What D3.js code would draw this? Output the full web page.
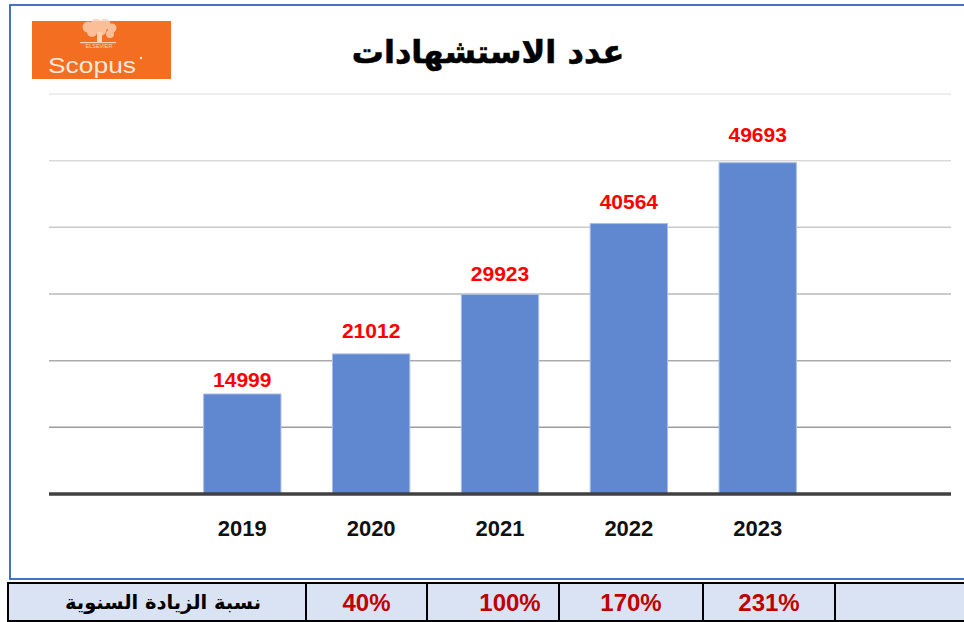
<!DOCTYPE html>
<meta charset="utf-8">
<style>
    body { margin: 0; background: #fff; }
    svg text { font-family: "Liberation Sans", Arial, sans-serif; }
    .ar { font-family: "DejaVu Sans", sans-serif; }
</style>
<svg class="chart" width="964" height="622"></svg>
<script src="https://cdn.jsdelivr.net/npm/d3@7/dist/d3.min.js"></script>
<script>
    var years = ["2019", "2020", "2021", "2022", "2023"];
    var citations = [14999, 21012, 29923, 40564, 49693];
    var yTicks = [10000, 20000, 30000, 40000, 50000, 60000];
    var growthLabel = "نسبة الزيادة السنوية";
    var growth = ["40%", "100%", "170%", "231%"];
    var title = "عدد الاستشهادات";

    // layout only: hand-placed label gaps above bars, table cell edges, text nudges
    var labelGap = [7, 16, 14, 15, 21];
    var cols = [8, 306, 427, 559, 703, 835, 998];
    var cellNudge = [0, 17, 0, 0];

    var svg = d3.select(".chart");

    // outer frame
    svg.append("rect")
        .attr("x", 10).attr("y", 5)
        .attr("width", 970).attr("height", 574)
        .attr("fill", "none")
        .attr("stroke", "#4472c4")
        .attr("stroke-width", 2);

    // scopus logo
    var logo = svg.append("g");
    logo.append("rect")
        .attr("x", 32).attr("y", 21)
        .attr("width", 139).attr("height", 58)
        .attr("fill", "#f46e22");
    var leaf = "#fcd3b6";
    logo.append("g").attr("fill", leaf).attr("opacity", 0.8)
        .selectAll("circle")
        .data([[88, 27, 5.5], [96, 24, 5.5], [105, 24, 5.5], [112, 28, 4.5], [92, 32, 5], [101, 30, 5.5], [110, 34, 4]])
        .enter().append("circle")
        .attr("cx", function (d) { return d[0]; })
        .attr("cy", function (d) { return d[1]; })
        .attr("r", function (d) { return d[2]; });
    logo.append("rect").attr("x", 97).attr("y", 32).attr("width", 5).attr("height", 10).attr("fill", leaf);
    logo.append("rect").attr("x", 80).attr("y", 42).attr("width", 36).attr("height", 1.2).attr("fill", leaf);
    logo.append("text")
        .attr("x", 99).attr("y", 48)
        .attr("text-anchor", "middle")
        .attr("font-size", 5.5)
        .attr("font-family", "DejaVu Serif")
        .attr("fill", leaf)
        .text("ELSEVIER");
    logo.append("text")
        .attr("x", 48).attr("y", 73)
        .attr("font-family", "Open Sans")
        .attr("font-size", 22)
        .attr("textLength", 88)
        .attr("lengthAdjust", "spacingAndGlyphs")
        .attr("fill", "#fde8da")
        .text("Scopus");
    logo.append("circle").attr("cx", 141).attr("cy", 58).attr("r", 1.2).attr("fill", "#fde8da");

    // title
    svg.append("text")
        .attr("class", "ar")
        .attr("x", 488).attr("y", 63)
        .attr("text-anchor", "middle")
        .attr("font-size", 32)
        .attr("font-weight", "bold")
        .attr("direction", "rtl")
        .attr("fill", "#000")
        .attr("stroke", "#000")
        .attr("stroke-width", 0.6)
        .text(title);

    var x = d3.scaleBand()
        .domain(["pad0"].concat(years, ["pad1"]))
        .range([49, 951])
        .paddingInner(0.4)
        .paddingOuter(0.2);

    var y = d3.scaleLinear()
        .domain([0, 60000])
        .range([494, 94]);

    var gridColor = d3.scaleLinear()
        .domain([10000, 60000])
        .range(["#9c9c9c", "#e8e8e8"]);

    svg.append("g").selectAll("line")
        .data(yTicks)
        .enter().append("line")
        .attr("x1", 49).attr("x2", 951)
        .attr("y1", function (d) { return y(d); })
        .attr("y2", function (d) { return y(d); })
        .attr("stroke", function (d) { return gridColor(d); })
        .attr("stroke-width", 1.5);

    var bars = svg.append("g").selectAll("g")
        .data(years)
        .enter().append("g");

    bars.append("rect")
        .attr("x", function (d) { return x(d); })
        .attr("y", function (d, i) { return y(citations[i]); })
        .attr("width", x.bandwidth())
        .attr("height", function (d, i) { return y(0) - y(citations[i]); })
        .attr("fill", "#5f88d0")
        .attr("stroke", "#a7bde6")
        .attr("stroke-width", 1);

    bars.append("text")
        .attr("x", function (d) { return x(d) + x.bandwidth() / 2; })
        .attr("y", function (d, i) { return y(citations[i]) - labelGap[i]; })
        .attr("text-anchor", "middle")
        .attr("font-size", 21)
        .attr("font-weight", "bold")
        .attr("fill", "#ff0000")
        .text(function (d, i) { return citations[i]; });

    bars.append("text")
        .attr("x", function (d) { return x(d) + x.bandwidth() / 2; })
        .attr("y", 536)
        .attr("text-anchor", "middle")
        .attr("font-size", 22)
        .attr("font-weight", "bold")
        .attr("fill", "#111")
        .text(function (d) { return d; });

    // baseline
    svg.append("line")
        .attr("x1", 49).attr("x2", 951)
        .attr("y1", y(0)).attr("y2", y(0))
        .attr("stroke", "#404040")
        .attr("stroke-width", 3.5);

    // growth table
    var table = svg.append("g");
    table.append("rect")
        .attr("x", cols[0]).attr("y", 583)
        .attr("width", cols[6] - cols[0]).attr("height", 38)
        .attr("fill", "#dae3f3")
        .attr("stroke", "#000")
        .attr("stroke-width", 2);
    table.selectAll("line.div")
        .data(cols.slice(1, 6))
        .enter().append("line")
        .attr("x1", function (d) { return d; })
        .attr("x2", function (d) { return d; })
        .attr("y1", 583).attr("y2", 621)
        .attr("stroke", "#000")
        .attr("stroke-width", 2);
    table.append("text")
        .attr("class", "ar")
        .attr("x", (cols[0] + cols[1]) / 2 + 6).attr("y", 609)
        .attr("text-anchor", "middle")
        .attr("direction", "rtl")
        .attr("font-size", 19.5)
        .attr("font-weight", "bold")
        .attr("fill", "#000")
        .text(growthLabel);
    table.selectAll("text.pct")
        .data(growth)
        .enter().append("text")
        .attr("class", "pct")
        .attr("x", function (d, i) { return (cols[i + 1] + cols[i + 2]) / 2 + cellNudge[i]; })
        .attr("y", 611)
        .attr("text-anchor", "middle")
        .attr("font-size", 24)
        .attr("font-weight", "bold")
        .attr("fill", "#c00000")
        .text(function (d) { return d; });
</script>
